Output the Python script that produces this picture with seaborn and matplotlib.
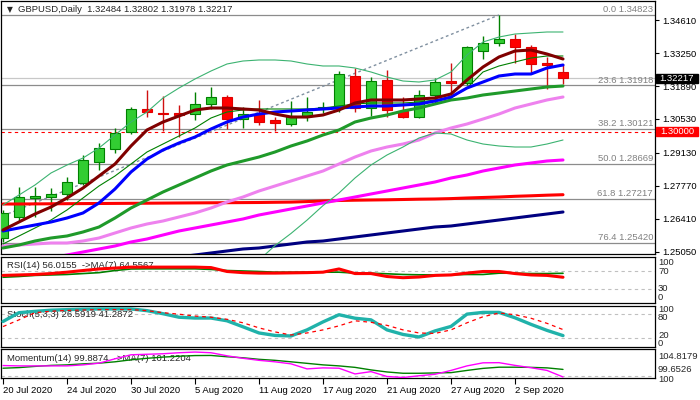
import numpy as np
import pandas as pd
import matplotlib
matplotlib.use("Agg")
import matplotlib.pyplot as plt
import matplotlib.transforms as mtransforms
from matplotlib.patches import Rectangle
import seaborn as sns

# ---------------- data ----------------
dates = ["20 Jul 2020", "21 Jul 2020", "22 Jul 2020", "23 Jul 2020", "24 Jul 2020",
         "27 Jul 2020", "28 Jul 2020", "29 Jul 2020", "30 Jul 2020", "31 Jul 2020",
         "3 Aug 2020", "4 Aug 2020", "5 Aug 2020", "6 Aug 2020", "7 Aug 2020",
         "10 Aug 2020", "11 Aug 2020", "12 Aug 2020", "13 Aug 2020", "14 Aug 2020",
         "17 Aug 2020", "18 Aug 2020", "19 Aug 2020", "20 Aug 2020", "21 Aug 2020",
         "24 Aug 2020", "25 Aug 2020", "26 Aug 2020", "27 Aug 2020", "28 Aug 2020",
         "31 Aug 2020", "1 Sep 2020", "2 Sep 2020", "3 Sep 2020", "4 Sep 2020", "7 Sep 2020"]

opens = [1.25601, 1.26493, 1.27277, 1.27319, 1.27430, 1.27897, 1.28764, 1.29289, 1.29991, 1.30928,
         1.30788, 1.30788, 1.30722, 1.31135, 1.31424, 1.30540, 1.30734, 1.30486, 1.30309, 1.30652,
         1.30928, 1.31011, 1.32304, 1.30970, 1.32138, 1.30858, 1.30623, 1.31519, 1.32110, 1.32027,
         1.33349, 1.33654, 1.33819, 1.33489, 1.32828, 1.32484]
highs = [1.26769, 1.27707, 1.27732, 1.27666, 1.28120, 1.29041, 1.29524, 1.30144, 1.31036, 1.31725,
         1.31478, 1.31106, 1.31655, 1.31862, 1.31531, 1.31036, 1.31313, 1.30598, 1.31271, 1.31449,
         1.31242, 1.32523, 1.32634, 1.32250, 1.32551, 1.31449, 1.31725, 1.32209, 1.32828, 1.33543,
         1.33956, 1.34823, 1.34038, 1.33584, 1.33101, 1.32802]
lows = [1.25448, 1.26286, 1.26493, 1.26741, 1.27183, 1.27802, 1.28421, 1.29111, 1.29908, 1.30623,
        1.30032, 1.29797, 1.30486, 1.30941, 1.30102, 1.30144, 1.30280, 1.30032, 1.30239, 1.30458,
        1.30763, 1.30817, 1.30817, 1.30652, 1.30598, 1.30569, 1.30557, 1.31147, 1.31589, 1.31932,
        1.32993, 1.33543, 1.32828, 1.32440, 1.31754, 1.31978]
closes = [1.26633, 1.27294, 1.27348, 1.27430, 1.27913, 1.28822, 1.29318, 1.29937, 1.30928, 1.30829,
          1.30722, 1.30693, 1.31147, 1.31424, 1.30515, 1.30734, 1.30416, 1.30350, 1.30652, 1.30829,
          1.31011, 1.32386, 1.30970, 1.32110, 1.30899, 1.30598, 1.31519, 1.32068, 1.32002, 1.33489,
          1.33654, 1.33819, 1.33489, 1.32787, 1.32770, 1.32217]

ma_maroon = [1.25944, 1.26274, 1.26604, 1.26893, 1.27265, 1.27678, 1.28173, 1.28669, 1.29413, 1.30074,
             1.30404, 1.30652, 1.30900, 1.30982, 1.30982, 1.30941, 1.30900, 1.30734, 1.30610, 1.30610,
             1.30693, 1.30900, 1.31189, 1.31313, 1.31313, 1.31313, 1.31354, 1.31395, 1.31560, 1.32139,
             1.32675, 1.33089, 1.33336, 1.33377, 1.33212, 1.33006]
ma_blue = [1.25902, 1.26026, 1.26150, 1.26274, 1.26439, 1.26646, 1.27059, 1.27637, 1.28339, 1.28876,
           1.29248, 1.29537, 1.29784, 1.30115, 1.30404, 1.30610, 1.30734, 1.30817, 1.30858, 1.30900,
           1.30941, 1.30982, 1.31023, 1.31065, 1.31065, 1.31106, 1.31147, 1.31271, 1.31436, 1.31808,
           1.32056, 1.32304, 1.32386, 1.32386, 1.32634, 1.32758]
ma_thin_green = [1.25365, 1.25696, 1.26026, 1.26356, 1.26770, 1.27265, 1.27761, 1.28173, 1.28669, 1.29165,
                 1.29495, 1.29826, 1.30156, 1.30569, 1.30817, 1.30900, 1.30941, 1.30941, 1.30941, 1.30941,
                 1.30982, 1.31065, 1.31147, 1.31189, 1.31189, 1.31189, 1.31230, 1.31313, 1.31395, 1.31808,
                 1.32469, 1.32717, 1.32882, 1.33047, 1.33130, 1.33130]
bb_mid = [1.25200, 1.25324, 1.25489, 1.25613, 1.25696, 1.25861, 1.26067, 1.26439, 1.26852, 1.27182,
          1.27513, 1.27802, 1.28091, 1.28380, 1.28628, 1.28793, 1.28958, 1.29165, 1.29413, 1.29619,
          1.29867, 1.30074, 1.30404, 1.30569, 1.30693, 1.30858, 1.30982, 1.31147, 1.31313, 1.31395,
          1.31519, 1.31601, 1.31684, 1.31767, 1.31850, 1.31891]
bb_upper = [1.26976, 1.27389, 1.27802, 1.28298, 1.28628, 1.28917, 1.29330, 1.29867, 1.30404, 1.30817,
            1.31395, 1.31808, 1.32180, 1.32510, 1.32800, 1.32923, 1.32965, 1.32965, 1.32923, 1.32800,
            1.32717, 1.32717, 1.32634, 1.32469, 1.32262, 1.32097, 1.32056, 1.32139, 1.32469, 1.33171,
            1.33708, 1.33914, 1.34038, 1.34080, 1.34121, 1.34121]
bb_lower_start = 15
bb_lower = [1.23961, 1.24700, 1.25300, 1.25800, 1.26350, 1.26950, 1.27471, 1.28091, 1.28628, 1.29041,
            1.29371, 1.29743, 1.29950, 1.29908, 1.29660, 1.29495, 1.29413, 1.29371, 1.29371, 1.29495,
            1.29660]
ma_violet = [1.25283, 1.25324, 1.25365, 1.25407, 1.25407, 1.25489, 1.25613, 1.25820, 1.26026, 1.26191,
             1.26315, 1.26481, 1.26646, 1.26852, 1.27100, 1.27306, 1.27554, 1.27761, 1.27967, 1.28173,
             1.28380, 1.28669, 1.28958, 1.29206, 1.29371, 1.29495, 1.29660, 1.29950, 1.30156, 1.30321,
             1.30527, 1.30734, 1.30982, 1.31147, 1.31313, 1.31436]
ma_magenta = [1.24374, 1.24540, 1.24663, 1.24787, 1.24911, 1.25035, 1.25159, 1.25283, 1.25448, 1.25572,
              1.25737, 1.25902, 1.26026, 1.26150, 1.26274, 1.26398, 1.26563, 1.26687, 1.26811, 1.26935,
              1.27059, 1.27183, 1.27306, 1.27431, 1.27554, 1.27678, 1.27802, 1.27926, 1.28091, 1.28215,
              1.28380, 1.28504, 1.28628, 1.28710, 1.28793, 1.28835]
ma_red = [1.27017, 1.27017, 1.27022, 1.27026, 1.27030, 1.27034, 1.27038, 1.27042, 1.27046, 1.27050,
          1.27055, 1.27059, 1.27063, 1.27067, 1.27071, 1.27075, 1.27079, 1.27088, 1.27096, 1.27117,
          1.27141, 1.27162, 1.27174, 1.27183, 1.27191, 1.27203, 1.27216, 1.27224, 1.27240, 1.27265,
          1.27286, 1.27306, 1.27335, 1.27356, 1.27381, 1.27401]
ma_navy = [1.23672, 1.23796, 1.23920, 1.24044, 1.24168, 1.24292, 1.24416, 1.24498, 1.24580, 1.24663,
           1.24746, 1.24829, 1.24911, 1.24994, 1.25077, 1.25159, 1.25200, 1.25283, 1.25365, 1.25448,
           1.25489, 1.25572, 1.25655, 1.25737, 1.25820, 1.25902, 1.25985, 1.26067, 1.26109, 1.26191,
           1.26274, 1.26356, 1.26439, 1.26522, 1.26604, 1.26687]

fib_pct = ["0.0", "23.6", "38.2", "50.0", "61.8", "76.4"]
fib_price = [1.34823, 1.31918, 1.30121, 1.28669, 1.27217, 1.25420]
fib_trend_idx = [0, 31]
fib_trend_price = [1.26530, 1.34823]
bid_price = 1.32217
round_level = 1.30000
price_ticks = [1.34610, 1.33250, 1.31890, 1.30530, 1.29130, 1.27770, 1.26410, 1.25050]

rsi = [60, 61, 62, 64, 67, 70.6, 74, 76, 78, 78, 78, 78, 78, 77, 68.5, 66, 65, 65, 65.5, 66,
       67, 74, 64, 64, 57.6, 55, 56.5, 60, 61, 65, 68.5, 68.5, 64, 61, 60, 56.0155]
rsi_ma = [56, 57.6, 60, 61, 62, 64, 66, 70.6, 74, 74.3, 74.3, 74.3, 74.3, 73, 70.6, 69.6, 68.5, 67, 67, 67,
          67, 67, 65, 64.8, 63.5, 62, 61.3, 61.3, 61.3, 62, 62, 64.8, 64.8, 64, 64, 64.5567]
stoch_main = [61, 82.5, 85.7, 88.6, 89.9, 91, 91.6, 91.6, 91.6, 87.4, 80, 71.4, 69.4, 69.4, 62.7, 48, 33, 27,
              25.7, 40.5, 60, 77.5, 69, 65, 40.5, 29.4, 23.2, 38, 49, 79, 83.2, 83.2, 70, 54, 39.3, 26.5919]
stoch_sig = [48.6, 65, 82.5, 86, 88, 89, 90, 90, 90, 87.4, 82.5, 78.8, 74.3, 71.4, 66.4, 57.8, 45.4, 35.6,
             28.1, 33, 40.5, 50.4, 62.7, 59, 51.6, 40.5, 33, 31.9, 40.5, 57.8, 72.6, 81.7, 77.5, 68.9, 56.5, 41.2872]
mom = [101.90, 101.84, 101.84, 101.84, 101.84, 102.02, 102.32, 103.09, 103.80, 103.89, 103.98, 104.16,
       104.28, 104.16, 103.62, 103.18, 102.82, 102.56, 102.20, 101.31, 101.49, 101.43, 100.42, 100.83,
       99.97, 99.79, 100.10, 100.36, 101.04, 101.84, 102.38, 102.41, 101.93, 101.52, 101.04, 99.8874]
mom_ma = [101.43, 101.54, 101.75, 101.93, 102.02, 102.20, 102.32, 102.56, 102.91, 103.18, 103.39, 103.54,
          103.66, 103.68, 103.45, 103.27, 103.00, 102.82, 102.56, 102.29, 102.02, 101.84, 101.58, 101.13,
          100.77, 100.54, 100.54, 100.60, 100.65, 101.04, 101.40, 101.61, 101.61, 101.58, 101.49, 101.2204]
mom_range = (99.6526, 104.8179)

title = "GBPUSD,Daily  1.32484 1.32802 1.31978 1.32217"
rsi_text = "RSI(14) 56.0155  ->MA(7) 64.5567"
sto_text = "Stoch(5,3,3) 26.5919 41.2872"
mom_text = "Momentum(14) 99.8874  ->MA(7) 101.2204"

# ---------------- style ----------------
sns.set_theme(style="white")
plt.rcParams['font.family'] = ['Liberation Sans', 'DejaVu Sans']
FS = 6.8
plt.rcParams['font.size'] = FS

W, H = 700, 400
fig = plt.figure(figsize=(7, 4), dpi=100)
fig.patch.set_facecolor("white")


def rect(x0, y0, x1, y1):
    return [x0 / W, 1 - y1 / H, (x1 - x0) / W, (y1 - y0) / H]


def ptext(x, y, s, **kw):
    kw.setdefault("va", "center")
    kw.setdefault("ha", "left")
    kw.setdefault("fontsize", FS)
    return fig.text(x / W, 1 - y / H, s, **kw)


ax = fig.add_axes(rect(1, 1, 655, 254))
ax_rsi = fig.add_axes(rect(1, 257, 655, 303), sharex=ax)
ax_sto = fig.add_axes(rect(1, 305.5, 655, 346.5), sharex=ax)
ax_mom = fig.add_axes(rect(1, 349, 655, 378.3), sharex=ax)

idx = np.arange(len(dates))
for a in (ax, ax_rsi, ax_sto, ax_mom):
    a.set_facecolor("white")
    for sp in a.spines.values():
        sp.set_color("black")
        sp.set_linewidth(0.9)
        sp.set_visible(True)
    a.grid(False)

ax.set_xlim(-0.125, 40.75)
ax.set_ylim(1.24952, 1.354012)

# ---- horizontal levels ----
for p in fib_price:
    ax.axhline(p, color="#8c8c8c", lw=0.9, zorder=1)
ax.axhline(bid_price, color="#c8c8c8", lw=0.9, zorder=1)
ax.axhline(round_level, color="#ff0000", lw=0.8, ls=(0, (3, 3)), zorder=1)
blend = mtransforms.blended_transform_factory(ax.transAxes, ax.transData)
for pct, p in zip(fib_pct, fib_price):
    ax.text(0.997, p + 0.0003, f"{pct} {p:.5f}", transform=blend, ha="right", va="bottom",
            color="#808080", fontsize=FS, zorder=1)

# fib trend line (dashed)
sns.lineplot(x=fib_trend_idx, y=fib_trend_price, ax=ax, color="#8090a0", lw=1.0,
             linestyle=(0, (2, 2)), legend=False, zorder=1)

# ---- candles ----
o = np.array(opens); c = np.array(closes); h = np.array(highs); l = np.array(lows)
bull = c >= o
wick_col = np.where(bull, "#008000", "#d01010")
ax.vlines(idx, l, h, colors=wick_col, lw=1.0, zorder=2)
body_bottom = np.minimum(o, c)
body_h = np.maximum(np.abs(c - o), 0.0003)
ax.bar(idx[bull], body_h[bull], bottom=body_bottom[bull], width=0.64, color="#32cd32",
       edgecolor="#008000", linewidth=0.8, zorder=3)
ax.bar(idx[~bull], body_h[~bull], bottom=body_bottom[~bull], width=0.64, color="#ff0000",
       edgecolor="#e00000", linewidth=0.8, zorder=3)

# ---- moving averages / bands ----
def line(a, x, y, color, lw, **kw):
    sns.lineplot(x=list(x), y=list(y), ax=a, color=color, linewidth=lw, legend=False,
                 zorder=kw.pop("zorder", 4), **kw)

line(ax, idx, ma_navy, "#000080", 2.2)
line(ax, idx, ma_red, "#ff0000", 2.2)
line(ax, idx, ma_magenta, "#ff00ff", 2.2)
line(ax, idx, ma_violet, "#ee82ee", 2.2)
line(ax, idx, bb_upper, "#3cb371", 0.8)
line(ax, range(bb_lower_start, bb_lower_start + len(bb_lower)), bb_lower, "#3cb371", 0.8)
line(ax, idx, bb_mid, "#1f9a2a", 2.2)
line(ax, idx, ma_thin_green, "#008000", 0.8)
line(ax, idx, ma_blue, "#0000ff", 2.2)
line(ax, idx, ma_maroon, "#800000", 2.2)

ax.set_ylim(1.24952, 1.354012)
ax.set_xlim(-0.125, 40.75)

# price axis
ax.yaxis.tick_right()
ax.set_yticks(price_ticks)
ax.set_yticklabels([f"{p:.5f}" for p in price_ticks])
ax.tick_params(axis="y", which="both", direction="out", length=3, width=0.8, pad=2,
               labelsize=FS, colors="black", right=True, left=False)
ax.tick_params(axis="x", bottom=False, labelbottom=False)
ax.set_xlabel(""); ax.set_ylabel("")

# price boxes
box_h = 0.0037
for price, fc in ((bid_price, "black"), (round_level, "#ff0000")):
    ax.add_patch(Rectangle((1.0015, price - box_h / 2), 0.0642, box_h, transform=blend,
                           facecolor=fc, edgecolor=fc, clip_on=False, zorder=20))
    ax.text(1.0336, price, f"{price:.5f}", transform=blend, ha="center", va="center",
            color="white", fontsize=FS, zorder=21, clip_on=False)

# title
ptext(7, 9.5, "\u25BC", fontsize=5.5, family=["DejaVu Sans"])
ptext(18, 9.5, title)

# ---- RSI ----
ax_rsi.set_ylim(0, 100)
for lv in (70, 30):
    ax_rsi.axhline(lv, color="#c0c0c0", lw=0.8, ls=(0, (3, 3)), zorder=1)
line(ax_rsi, idx, rsi_ma, "#008000", 1.2)
line(ax_rsi, idx, rsi, "#ff0000", 2.2)
ax_rsi.text(6 / 654, 1 - (266 - 257) / 46, rsi_text, transform=ax_rsi.transAxes,
            ha="left", va="center", fontsize=FS, zorder=2)
for s, y in (("100", 262.5), ("70", 271.5), ("30", 288.5), ("0", 297.5)):
    ptext(658, y, s)

# ---- Stochastic ----
ax_sto.set_ylim(0, 100)
for lv in (80, 20):
    ax_sto.axhline(lv, color="#c0c0c0", lw=0.8, ls=(0, (3, 3)), zorder=1)
line(ax_sto, idx, stoch_main, "#20b2aa", 2.4)
line(ax_sto, idx, stoch_sig, "#ff0000", 0.9, linestyle=(0, (3, 3)))
ax_sto.text(6 / 654, 1 - (314.3 - 305.5) / 41, sto_text, transform=ax_sto.transAxes,
            ha="left", va="center", fontsize=FS, zorder=2)
for s, y in (("100", 309.8), ("80", 317.6), ("20", 335.6), ("0", 343.2)):
    ptext(658, y, s)

# ---- Momentum ----
ax_mom.set_ylim(*mom_range)
ax_mom.axhline(100, color="#c0c0c0", lw=0.8, ls=(0, (3, 3)), zorder=1)
line(ax_mom, idx, mom_ma, "#008000", 1.0)
line(ax_mom, idx, mom, "#ff00ff", 1.0)
ax_mom.text(6 / 654, 1 - (358.3 - 349) / 29.3, mom_text, transform=ax_mom.transAxes,
            ha="left", va="center", fontsize=FS, zorder=2)
for s, y in (("104.8179", 356.2), ("99.6526", 369.6), ("100", 379.2)):
    ptext(658, y, s)

for a in (ax_rsi, ax_sto, ax_mom):
    a.set_yticks([])
    a.set_xlabel(""); a.set_ylabel("")
    a.tick_params(axis="y", left=False, right=False, labelleft=False)
for a in (ax_rsi, ax_sto):
    a.tick_params(axis="x", bottom=False, labelbottom=False)

# date axis
tick_idx = list(range(0, len(dates), 4))
ax_mom.set_xticks(tick_idx)
ax_mom.set_xticklabels([dates[i] for i in tick_idx], ha="left")
ax_mom.tick_params(axis="x", bottom=True, labelbottom=True, direction="out", length=4,
                   width=0.8, pad=1.5, labelsize=FS, colors="black")
ax_mom.set_xlim(-0.125, 40.75)

fig.savefig("out.png", dpi=100, facecolor="white")
